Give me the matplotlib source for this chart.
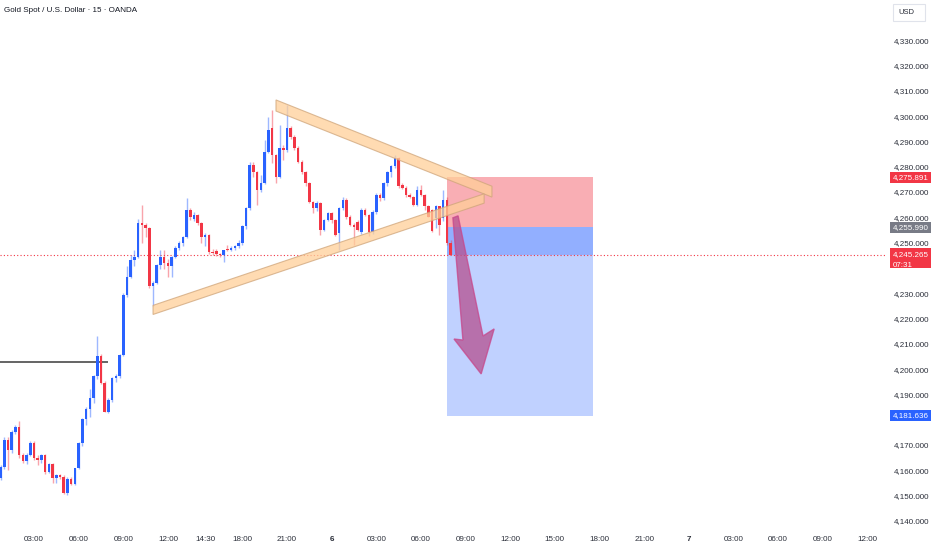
import matplotlib
matplotlib.use('Agg')
from matplotlib import pyplot as plt
from matplotlib import font_manager
from matplotlib.patches import Rectangle, Polygon
import matplotlib.transforms as mtransforms

# candle index 0 = 03:00 on day 5, one step = 15 minutes
first_idx = -9
opens = [
    4157.0, 4161.5, 4172.0, 4168.1, 4175.3, 4177.3, 4166.1, 4163.5, 4166.1,
    4170.7, 4164.8, 4164.1, 4166.1, 4159.5, 4162.5, 4157.0, 4158.1, 4157.3, 4151.0,
    4156.5, 4154.7, 4160.8, 4170.7, 4180.2, 4184.1, 4188.5, 4197.1, 4205.0, 4194.4,
    4183.2, 4187.8, 4196.4, 4197.1, 4205.6, 4229.4, 4236.6, 4243.2, 4244.5, 4257.6,
    4257.0, 4255.7, 4232.7, 4234.0, 4241.2, 4244.5, 4241.9, 4240.6, 4244.5, 4247.8,
    4249.8, 4252.4, 4262.9, 4259.5, 4261.0, 4257.6, 4252.4, 4253.0, 4246.4, 4246.5,
    4245.7, 4245.1, 4247.5, 4247.0, 4248.0, 4248.6, 4249.8, 4256.4, 4263.6, 4280.7,
    4278.1, 4270.8, 4273.5, 4286.0, 4295.2, 4284.6, 4276.1, 4287.3, 4286.6, 4295.2,
    4291.9, 4287.3, 4282.0, 4278.1, 4273.5, 4266.2, 4263.6, 4265.6, 4255.1, 4259.1,
    4261.7, 4259.1, 4253.8, 4263.6, 4266.9, 4260.3, 4257.0, 4258.0, 4254.3, 4262.9,
    4261.0, 4254.3, 4262.3, 4268.9, 4267.5, 4273.5, 4278.1, 4280.1, 4283.4, 4272.8,
    4271.5, 4268.9, 4268.2, 4264.9, 4270.8, 4268.9, 4264.3, 4262.9, 4259.6, 4264.3,
    4259.6, 4266.9, 4249.7]
closes = [
    4161.5, 4172.0, 4168.1, 4175.3, 4177.3, 4166.1, 4163.5, 4166.1, 4170.7,
    4164.8, 4164.1, 4166.1, 4159.5, 4162.5, 4156.9, 4158.1, 4157.3, 4151.0, 4156.5,
    4154.7, 4160.8, 4170.7, 4180.2, 4184.1, 4188.5, 4197.1, 4205.0, 4194.4, 4183.2,
    4187.8, 4196.4, 4197.1, 4205.6, 4229.4, 4236.6, 4243.2, 4244.5, 4257.6, 4257.0,
    4255.7, 4232.7, 4234.0, 4241.2, 4244.5, 4241.9, 4240.6, 4244.5, 4247.8, 4249.8,
    4252.4, 4262.9, 4260.3, 4261.0, 4257.6, 4252.4, 4253.0, 4246.4, 4246.0, 4245.7,
    4245.1, 4247.0, 4247.1, 4248.0, 4248.6, 4249.8, 4256.4, 4263.6, 4280.7, 4278.1,
    4270.8, 4273.5, 4286.0, 4294.6, 4284.6, 4276.1, 4287.3, 4286.6, 4295.2, 4291.9,
    4287.3, 4282.0, 4278.1, 4273.5, 4266.2, 4263.6, 4265.6, 4255.1, 4259.1, 4261.7,
    4259.1, 4253.1, 4263.6, 4266.9, 4260.3, 4257.0, 4256.3, 4255.0, 4262.9, 4261.0,
    4254.3, 4262.3, 4268.9, 4267.5, 4273.5, 4278.1, 4280.1, 4283.4, 4272.2, 4271.5,
    4268.9, 4268.2, 4264.9, 4270.8, 4268.9, 4264.3, 4260.3, 4254.5, 4264.3, 4257.0,
    4266.9, 4249.7, 4245.265]
highs = [
    4162.0, 4173.0, 4173.0, 4176.0, 4178.0, 4179.3, 4167.0, 4167.0, 4171.5,
    4171.5, 4166.0, 4166.5, 4166.5, 4163.0, 4163.0, 4158.5, 4158.5, 4158.0, 4157.5,
    4157.5, 4161.0, 4171.0, 4180.5, 4185.0, 4192.0, 4197.5, 4213.1, 4206.0, 4195.5,
    4188.5, 4197.0, 4198.0, 4206.0, 4230.0, 4240.6, 4245.1, 4247.1, 4259.5, 4264.9,
    4257.6, 4256.0, 4235.0, 4241.5, 4247.1, 4247.1, 4243.5, 4244.8, 4248.5, 4250.5,
    4252.8, 4267.5, 4263.5, 4262.0, 4261.5, 4258.0, 4254.0, 4253.5, 4247.5, 4247.5,
    4246.0, 4247.0, 4249.0, 4248.5, 4249.0, 4251.0, 4257.0, 4264.0, 4282.0, 4282.0,
    4278.5, 4276.8, 4290.6, 4299.8, 4302.5, 4285.0, 4296.5, 4288.6, 4304.5, 4296.0,
    4292.5, 4288.0, 4282.5, 4278.5, 4274.0, 4266.5, 4266.5, 4266.0, 4259.5, 4262.3,
    4262.0, 4259.5, 4264.0, 4268.0, 4267.5, 4261.0, 4257.6, 4259.0, 4263.5, 4263.5,
    4261.5, 4263.0, 4269.5, 4269.5, 4274.0, 4278.5, 4280.8, 4284.7, 4284.0, 4273.5,
    4272.2, 4269.5, 4268.6, 4272.2, 4272.8, 4269.2, 4264.8, 4263.2, 4264.8, 4264.5,
    4270.8, 4268.0, 4251.0]
lows = [
    4156.0, 4160.5, 4160.2, 4167.0, 4174.5, 4165.0, 4163.0, 4162.5, 4165.5,
    4164.0, 4162.0, 4163.0, 4158.5, 4159.0, 4155.0, 4155.0, 4156.5, 4150.8, 4150.1,
    4154.0, 4154.0, 4160.5, 4169.5, 4178.0, 4181.0, 4186.5, 4196.0, 4194.0, 4183.0,
    4182.8, 4187.0, 4195.0, 4196.5, 4205.0, 4228.5, 4235.9, 4240.6, 4243.8, 4250.0,
    4252.4, 4232.0, 4224.8, 4233.5, 4239.5, 4239.5, 4236.6, 4236.6, 4243.8, 4247.0,
    4248.5, 4252.0, 4259.0, 4258.5, 4257.0, 4250.0, 4248.5, 4245.5, 4245.0, 4244.8,
    4244.5, 4242.5, 4246.5, 4246.5, 4247.0, 4248.0, 4249.0, 4255.5, 4263.0, 4276.1,
    4265.0, 4270.2, 4273.0, 4285.5, 4281.4, 4273.5, 4275.5, 4282.6, 4286.0, 4291.0,
    4286.5, 4281.5, 4277.0, 4272.5, 4265.5, 4261.7, 4262.5, 4253.1, 4254.5, 4258.4,
    4257.6, 4252.5, 4247.2, 4263.0, 4259.5, 4256.5, 4249.0, 4254.5, 4253.5, 4260.5,
    4252.5, 4253.5, 4261.5, 4266.5, 4267.0, 4272.5, 4276.1, 4279.4, 4271.5, 4271.0,
    4268.2, 4267.5, 4264.3, 4264.5, 4268.5, 4263.0, 4260.0, 4254.3, 4255.6, 4253.0,
    4258.5, 4249.0, 4245.1]

tick_pos = [0, 12, 24, 36, 46, 56, 68, 80, 92, 104, 116, 128, 140, 152, 164,
            176, 188, 200, 212, 224]
tick_labels = ['03:00', '06:00', '09:00', '12:00', '14:30', '18:00', '21:00', '6',
               '03:00', '06:00', '09:00', '12:00', '15:00', '18:00', '21:00', '7',
               '03:00', '06:00', '09:00', '12:00']
price_ticks = [4140, 4150, 4160, 4170, 4190, 4200, 4210, 4220, 4230, 4250,
               4260, 4270, 4280, 4290, 4300, 4310, 4320, 4330]

level_price = 4203.0
stop_price = 4275.891
entry_price = 4255.990
target_price = 4181.636
last_price = 4245.265
countdown = '07:31'
pos_start, pos_end = 111.1, 150.2

upper_band = [(65.05, 4306.4), (123.1, 4272.3), (123.1, 4268.0), (65.05, 4302.0)]
lower_band = [(32.0, 4225.2), (121.0, 4269.3), (121.0, 4265.6), (32.0, 4221.6)]
arrow_pts = [(112.6, 4259.8), (114.0, 4260.6), (120.7, 4213.1), (123.7, 4215.9),
             (120.2, 4198.1), (112.9, 4211.9), (115.3, 4211.5)]

names = {f.name for f in font_manager.fontManager.ttflist}
if 'Liberation Sans Narrow' in names:
    fam, fs = 'Liberation Sans Narrow', 7.0
elif 'Liberation Sans' in names:
    fam, fs = 'Liberation Sans', 5.8
else:
    fam, fs = 'DejaVu Sans', 5.2
plt.rcParams['font.family'] = [fam, 'DejaVu Sans']

BLUE = '#2962FF'
RED = '#F23645'
TXT = '#2a2e39'

W, H = 932, 550
fig = plt.figure(figsize=(W / 100, H / 100), dpi=100)
ax = fig.add_axes([0, 22 / H, 885 / W, 528 / H])
ax.set_xlim(-9.14, 228.76)
ax.set_ylim(4137.2, 4345.9)
for s in ax.spines.values():
    s.set_visible(False)

# position tool
ax.add_patch(Rectangle((pos_start, entry_price), pos_end - pos_start,
                       stop_price - entry_price, color=RED, alpha=0.4, lw=0, zorder=1))
ax.add_patch(Rectangle((pos_start, target_price), pos_end - pos_start,
                       entry_price - target_price, color=BLUE, alpha=0.29, lw=0, zorder=1))
ax.add_patch(Rectangle((pos_start, last_price), pos_end - pos_start,
                       entry_price - last_price, color=BLUE, alpha=0.3, lw=0, zorder=1))

# candles
for i in range(len(opens)):
    x = first_idx + i
    o, c = opens[i], closes[i]
    h = max(highs[i], o, c)
    l = min(lows[i], o, c)
    col = BLUE if c >= o else RED
    ax.vlines(x, l, h, color=col, alpha=0.45, lw=1, zorder=2)
    ax.bar(x, max(abs(c - o), 0.35), bottom=min(o, c), width=0.68, color=col,
           lw=0, zorder=2.1)

ax.hlines(level_price, -9.14, 20, color='#4a4a4a', lw=1.2, zorder=2)
ax.axhline(last_price, color=RED, ls=(0, (1, 2)), lw=0.8, zorder=1.5)

for band in (upper_band, lower_band):
    ax.add_patch(Polygon(band, closed=True, facecolor='#FFCF99', edgecolor='#CFA57A',
                         lw=0.8, alpha=0.75, zorder=3))
ax.add_patch(Polygon(arrow_pts, closed=True, facecolor='#B5508F', edgecolor='#C8468A',
                     lw=1.0, alpha=0.75, zorder=4))

# axes ticks
ax.set_xticks(tick_pos)
ax.set_xticklabels(tick_labels)
ax.tick_params(axis='x', length=0, pad=6, labelsize=fs, labelcolor=TXT)
for t in ax.get_xticklabels():
    if t.get_text() in ('6', '7'):
        t.set_fontweight('bold')
ax.yaxis.tick_right()
ax.set_yticks(price_ticks)
ax.set_yticklabels(['{:,.3f}'.format(p) for p in price_ticks])
ax.tick_params(axis='y', length=0, pad=6.5, labelsize=fs, labelcolor=TXT)

# price labels on the scale
tr = mtransforms.blended_transform_factory(fig.transFigure, ax.transData)
ppx = 2.53
for price, col, lines in [(stop_price, RED, 1), (entry_price, '#787B86', 1),
                          (target_price, BLUE, 1), (last_price, RED, 2)]:
    if lines == 1:
        top, hgt = price + 5.5 / ppx, 11 / ppx
    else:
        top, hgt = price + 6.5 / ppx, 20 / ppx
    ax.add_patch(Rectangle((889.5 / W, top - hgt), 41 / W, hgt, transform=tr,
                           color=col, lw=0, clip_on=False, zorder=5))
    ax.text(893 / W, price, '{:,.3f}'.format(price), transform=tr, color='white',
            fontsize=fs, va='center', ha='left', zorder=6, clip_on=False)
    if lines == 2:
        ax.text(893 / W, price - 11 / ppx, countdown, transform=tr, color='white',
                fontsize=fs, va='center', ha='left', zorder=6, clip_on=False)

fig.text(4 / W, 1 - 11 / H, 'Gold Spot / U.S. Dollar · 15 · OANDA', fontsize=fs,
         color='#131722', va='center', ha='left')
fig.patches.append(Rectangle((893 / W, 1 - 21 / H), 32 / W, 17 / H, transform=fig.transFigure,
                             facecolor='white', edgecolor='#e0e3eb', lw=0.8))
fig.text(898 / W, 1 - 12.5 / H, 'USD', fontsize=fs - 0.3, color=TXT, va='center', ha='left')

fig.savefig('out.png', dpi=100, facecolor='white')
